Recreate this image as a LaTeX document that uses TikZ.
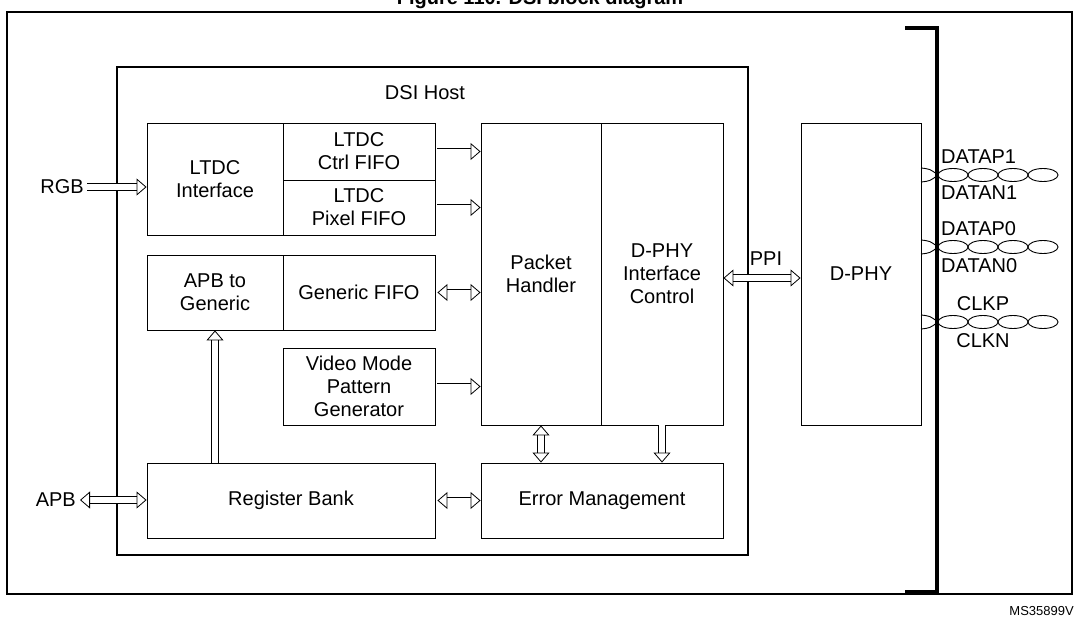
\documentclass[tikz,border=0pt]{standalone}
\usepackage{fontspec}
\setmainfont{Liberation Sans}
\usetikzlibrary{arrows.meta}
\begin{document}
\begin{tikzpicture}[x=1pt,y=-1pt,
  box/.style={draw,line width=0.9pt,inner sep=0pt,align=center,font=\fontsize{20}{23}\selectfont},
  lbl/.style={inner sep=0pt,font=\fontsize{20}{23}\selectfont},
  tip/.tip={Triangle[open,length=10pt,width=17pt,line width=0.8pt]},
  ha/.style={double,double distance=6pt,line width=0.8pt,-tip},
  hb/.style={double,double distance=6pt,line width=0.8pt,tip-tip},
  tw/.style={line width=0.9pt}]
\useasboundingbox (0,0) rectangle (1079,621);
\clip (0,0) rectangle (1079,621);
\node[anchor=base,font=\bfseries\fontsize{20}{23}\selectfont] (title) at (540,5) {Figure 110. DSI block diagram};
\draw[line width=1.2pt] (7,12) rectangle (1072,594);
\node[anchor=south east,inner sep=0pt,font=\fontsize{13}{15}\selectfont] (ms) at (1074,616) {MS35899V};
% bracket
\draw[line width=4pt] (905,28) -- (937,28) -- (937,592) -- (905,592);
% host
\node[box,line width=1.2pt,minimum width=631,minimum height=488] (host) at (432.5,311) {};
\node[lbl] (hostl) at (425,93) {DSI Host};
\node[box,minimum width=136,minimum height=112] (ltdc) at (215,179) {LTDC\\Interface};
\node[box,minimum width=152,minimum height=57] (ctrl) at (359,151.5) {LTDC\\Ctrl FIFO};
\node[box,minimum width=152,minimum height=55] (pixel) at (359,207.5) {LTDC\\Pixel FIFO};
\node[box,minimum width=136,minimum height=75] (apbg) at (215,292.5) {APB to\\Generic};
\node[box,minimum width=152,minimum height=75] (gfifo) at (359,292.5) {Generic FIFO};
\node[box,minimum width=152,minimum height=77] (video) at (359,386.5) {Video Mode\\Pattern\\Generator};
\node[box,minimum width=120,minimum height=302] (ph) at (541,274) {Packet\\Handler};
\node[box,minimum width=122,minimum height=302] (dctl) at (662,274) {D-PHY\\Interface\\Control};
\node[box,minimum width=120,minimum height=302] (dphy) at (861,274) {D-PHY};
\node[box,minimum width=288,minimum height=75] (reg) at (291,500.5) {Register Bank};
\node[box,minimum width=242,minimum height=75] (err) at (602,500.5) {Error Management};
% external
\coordinate (rgbc) at (87,187);
\node[lbl,anchor=east] (rgb) at (84,187) {RGB};
\coordinate (apbc) at (80,500);
\node[lbl,anchor=east] (apb) at (76,500) {APB};
\draw[ha] (rgbc) -- (rgbc-|ltdc.west);
\draw[hb] (apbc) -- (apbc-|reg.west);
\draw[ha,shorten <=2pt] (ctrl.east) -- (ctrl.east-|ph.west);
\draw[ha,shorten <=2pt] (pixel.east) -- (pixel.east-|ph.west);
\draw[hb,shorten <=2pt] (gfifo.east) -- (gfifo.east-|ph.west);
\draw[ha,shorten <=2pt] (video.east) -- (video.east-|ph.west);
\draw[hb,shorten <=2pt] (reg.east) -- (reg.east-|err.west);
\draw[hb] (dctl.east|-0,278) -- (dphy.west|-0,278);
\node[lbl] (ppi) at (766,259) {PPI};
\draw[ha] (reg.north-|apbg.south) -- (apbg.south);
\draw[hb] (ph.south) -- (err.north-|ph.south);
\draw[ha] (dctl.south) -- (err.north-|dctl.south);
% twisted pairs
\foreach \y in {175,247,322}{
  \draw[tw] (921,\y-7) .. controls (930,\y-6) .. (938,\y);
  \draw[tw] (921,\y+7) .. controls (930,\y+6) .. (938,\y);
  \foreach \c in {953,983,1013,1043}{\draw[tw] (\c,\y) ellipse [x radius=15,y radius=6.5];}
}
\node[lbl,anchor=west] (dp1) at (941,157) {DATAP1};
\node[lbl,anchor=west] (dn1) at (941,193) {DATAN1};
\node[lbl,anchor=west] (dp0) at (941,229) {DATAP0};
\node[lbl,anchor=west] (dn0) at (941,266) {DATAN0};
\node[lbl] (cp) at (983,304) {CLKP};
\node[lbl] (cn) at (983,341) {CLKN};
\end{tikzpicture}
\end{document}
